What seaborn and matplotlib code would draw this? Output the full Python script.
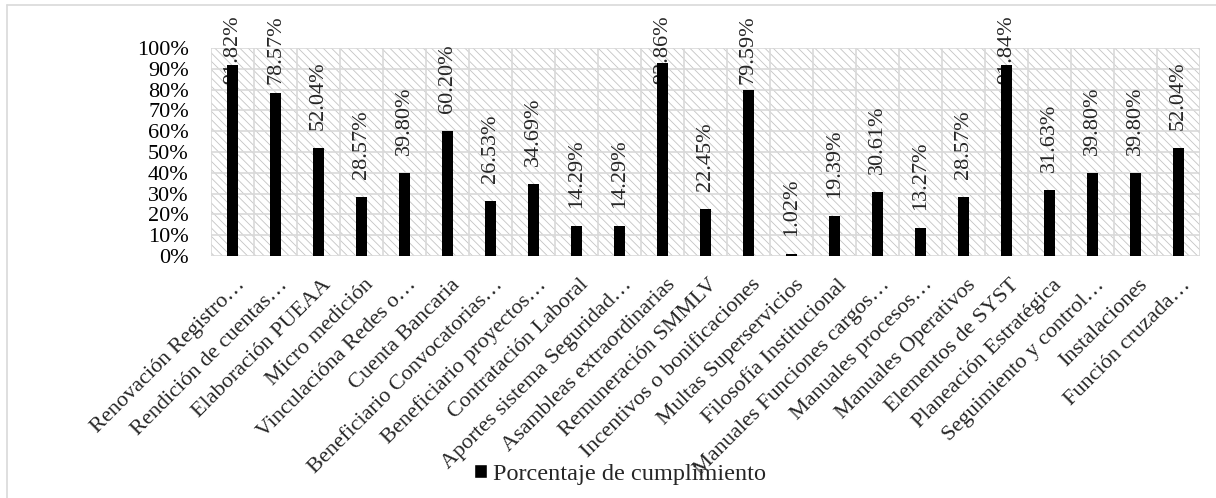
import matplotlib
matplotlib.use("Agg")
import matplotlib.pyplot as plt
import matplotlib.transforms as mtransforms
from matplotlib.patches import Rectangle
from matplotlib.lines import Line2D
import seaborn as sns
import pandas as pd

# Compliance items and their percentages
categories = [
    "Renovación Registro…",
    "Rendición de cuentas…",
    "Elaboración PUEAA",
    "Micro medición",
    "Vinculacióna Redes o…",
    "Cuenta Bancaria",
    "Beneficiario Convocatorias…",
    "Beneficiario proyectos…",
    "Contratación Laboral",
    "Aportes sistema Seguridad…",
    "Asambleas extraordinarias",
    "Remuneración SMMLV",
    "Incentivos o bonificaciones",
    "Multas Superservicios",
    "Filosofía Institucional",
    "Manuales Funciones cargos…",
    "Manuales procesos…",
    "Manuales Operativos",
    "Elementos de SYST",
    "Planeación Estratégica",
    "Seguimiento y control…",
    "Instalaciones",
    "Función cruzada…",
]
values = [91.82, 78.57, 52.04, 28.57, 39.80, 60.20, 26.53, 34.69, 14.29, 14.29,
          92.86, 22.45, 79.59, 1.02, 19.39, 30.61, 13.27, 28.57, 91.84, 31.63,
          39.80, 39.80, 52.04]
y_ticks = list(range(0, 101, 10))
y_tick_labels = [f"{t}%" for t in y_ticks]
series_name = "Porcentaje de cumplimiento"

df = pd.DataFrame({"item": categories, "pct": values})

sns.set_theme(style="white")
plt.rcParams["font.family"] = ["Liberation Serif", "DejaVu Serif"]
plt.rcParams["hatch.linewidth"] = 0.6

FS = 16
GRID = "#d9d9d9"

fig = plt.figure(figsize=(12.16, 4.98), dpi=100)
ax = fig.add_axes([211 / 1216, 1 - 256 / 498, (1200 - 211) / 1216, (256 - 48) / 498])

# hatched plot-area background
bg = Rectangle((0, 0), 1, 1, transform=ax.transAxes, facecolor="white",
               edgecolor="#c4c4c4", hatch="\\\\\\\\", linewidth=0, zorder=0.1)
ax.add_patch(bg)

sns.barplot(data=df, x="item", y="pct", color="black", saturation=1,
            width=0.27, ax=ax, zorder=3)
for p in ax.patches:
    if p is not bg:
        p.set_zorder(3)
        p.set_edgecolor("none")

ax.set_xlim(-0.5, len(categories) - 0.5)
ax.set_ylim(0, 100)
ax.set_xlabel("")
ax.set_ylabel("")

# grid: horizontal at every 10 %, vertical at category boundaries
ax.set_yticks(y_ticks)
ax.set_yticklabels(y_tick_labels, fontsize=FS)
ax.set_xticks(range(len(categories)))
ax.set_xticks([i + 0.5 for i in range(-1, len(categories))], minor=True)
ax.set_axisbelow(True)
ax.grid(True, axis="y", which="major", color=GRID, linewidth=1.2, zorder=0.5)
ax.grid(True, axis="x", which="minor", color=GRID, linewidth=1.2, zorder=0.5)
ax.grid(False, axis="x", which="major")
ax.tick_params(axis="both", which="both", length=0)
ax.tick_params(axis="y", pad=16, colors="black")
ax.tick_params(axis="x", pad=14)
for s in ax.spines.values():
    s.set_visible(False)

ax.set_xticklabels(categories, fontsize=FS, rotation=45, ha="right",
                   va="top", rotation_mode="anchor")
shift = mtransforms.ScaledTranslation(3 / 100, 0, fig.dpi_scale_trans)
for lbl in ax.get_xticklabels():
    lbl.set_transform(lbl.get_transform() + shift)

# value labels above bars, kept inside the chart area
top_limit_px = 498 - 15
fig.canvas.draw()
renderer = fig.canvas.get_renderer()
for i, v in enumerate(values):
    t = ax.annotate(f"{v:.2f}%", xy=(i, v), xytext=(0, 13),
                    textcoords="offset points", rotation=90,
                    ha="center", va="bottom", fontsize=FS,
                    annotation_clip=False, zorder=2.5)
    bb = t.get_window_extent(renderer)
    if bb.y1 > top_limit_px:
        t.set_position((0, 13 - (bb.y1 - top_limit_px) * 72 / fig.dpi))

fig.legend(handles=[Rectangle((0, 0), 1, 1, facecolor="black")],
           labels=[series_name], loc="center",
           bbox_to_anchor=(620 / 1216, 1 - 474 / 498), frameon=False,
           fontsize=17.5, handlelength=0.5, handleheight=0.5,
           handletextpad=0.25)

# chart-area border
fig.add_artist(Line2D([7 / 1216, 1.0], [1 - 5 / 498, 1 - 5 / 498],
                      transform=fig.transFigure, color=GRID, linewidth=1.2))
fig.add_artist(Line2D([7 / 1216, 7 / 1216], [0, 1 - 5 / 498],
                      transform=fig.transFigure, color=GRID, linewidth=1.2))

fig.savefig("out.png", dpi=100)
